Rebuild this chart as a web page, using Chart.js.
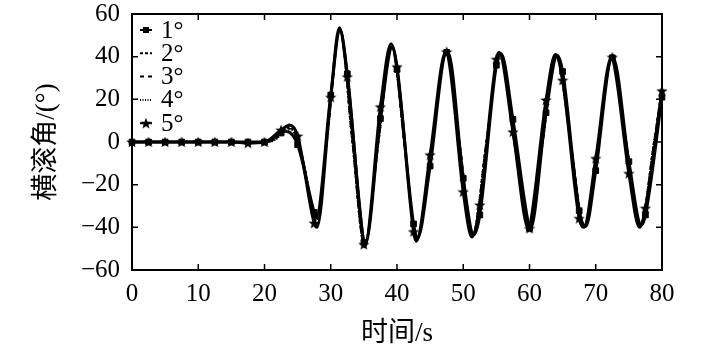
<!DOCTYPE html>
<html>
<head>
<meta charset="utf-8">
<script src="https://cdn.jsdelivr.net/npm/chart.js@4"></script>
<style>
  body { margin: 0; background: #fff; }
</style>
</head>
<body>
<canvas id="rollChart" width="709" height="350"></canvas>
<script>
// marker times (s) for the 1° (squares) and 5° (stars) curves
const markerTimes = [0, 2.5, 5, 7.5, 10, 12.5, 15, 17.5, 20, 22.5, 25, 27.5, 30, 32.5, 35, 37.5, 40, 42.5, 45, 47.5, 50, 52.5, 55, 57.5, 60, 62.5, 65, 67.5, 70, 72.5, 75, 77.5, 80];
const squareValues = [0, 0, 0, 0, 0, 0, 0, 0, 0, 4.2, -1.3, -33, 22, 32, -47, 11, 34, -38.4, -11.3, 42, -17, -34.2, 36, 10.6, -40.5, 13.7, 33, -32.2, -13.4, 39.5, -9.2, -34.2, 21];
const starValues = [0, 0, 0, 0, 0, 0, 0, -0.5, 0, 5.6, 2.8, -38, 21, 30.6, -48, 16.5, 35.3, -42, -6, 42.3, -23.3, -29.5, 38.8, 4.8, -40.5, 19.7, 29, -35.8, -7.7, 39.7, -14.7, -31, 24];

// peaks and troughs of the 1° and 5° curves
const peakTimes1 = [23.2, 27.8, 31.4, 35.2, 39.3, 43.1, 47.7, 51.6, 55.7, 60.1, 64.2, 68.5, 72.6, 76.9];
const peakValues1 = [5, -35.5, 52.5, -48, 44.5, -45, 42, -43.5, 41.5, -41, 40.5, -39.5, 39.5, -39];
const peakTimes5 = [23.8, 27.9, 31.3, 35.1, 39.1, 42.9, 47.4, 51.3, 55.4, 59.9, 63.9, 68.2, 72.4, 76.6];
const peakValues5 = [8, -40, 53.5, -49, 46, -46.5, 42.5, -44.5, 42, -41, 41, -40, 40, -40];

// 2°, 3°, 4° curves (no markers)
const keyTimes = [0, 20, 21.5, 23.5, 25, 26, 27.9, 29.5, 31.4, 33.2, 35.1, 37.2, 39.2, 41.1, 43.0, 45.3, 47.5, 49.5, 51.4, 53.5, 55.5, 57.7, 60.0, 62.0, 64.0, 66.2, 68.3, 70.4, 72.5, 74.6, 76.7, 78.8, 80];
const line2 = [0, 0, 1.2, 7, 1.5, -11, -38.5, 4, 53, 2, -48.5, 0, 45.5, 0, -46, 0, 42.3, -2, -44, 0, 42, 0, -41, 0, 41, 0, -40, 0, 40, 0, -39.5, 0, 26];
const line3 = [0, 0, 1, 6.5, 1, -11.5, -37.5, 3, 53, 2, -48.5, 0, 45, 0, -45.5, 0, 42.2, -2, -44, 0, 42, 0, -41, 0, 41, 0, -40, 0, 40, 0, -39.5, 0, 25];
const line4 = [0, 0, 0.8, 5.5, 0, -12.5, -36.5, 2, 52.5, 2, -48, 0, 44.5, 0, -45.5, 0, 42, -2, -43.5, 0, 41.5, 0, -41, 0, 40.5, 0, -39.5, 0, 39.5, 0, -39, 0, 24];

const seriesLabels = ['1°', '2°', '3°', '4°', '5°'];
const xTicks = [0, 10, 20, 30, 40, 50, 60, 70, 80];
const yTicks = [-60, -40, -20, 0, 20, 40, 60];

const serif = "'Liberation Serif', 'DejaVu Serif', serif";
const titleFont = "'Liberation Serif', 'Noto Sans CJK SC', serif";

function toPoints(times, values) {
    return times.map((t, i) => ({ x: t, y: values[i] }));
}

function merge(ta, va, tb, vb) {
    return toPoints(ta, va).concat(toPoints(tb, vb)).sort((a, b) => a.x - b.x);
}

function makeStar(size) {
    const c = document.createElement('canvas');
    c.width = size;
    c.height = size;
    const g = c.getContext('2d');
    const r = size / 2, ri = r * 0.42;
    g.beginPath();
    for (let k = 0; k < 10; k++) {
        const a = -Math.PI / 2 + k * Math.PI / 5;
        const rr = k % 2 ? ri : r;
        g.lineTo(r + rr * Math.cos(a), r + 0.5 + rr * Math.sin(a));
    }
    g.closePath();
    g.fillStyle = '#000';
    g.fill();
    return c;
}

const starImg = makeStar(12);

function lineSet(label, data, dash, width) {
    return {
        label: label,
        data: data,
        borderColor: '#000',
        borderWidth: width,
        borderDash: dash,
        pointRadius: 0,
        cubicInterpolationMode: 'monotone',
        fill: false
    };
}

const datasets = [
    lineSet('1°', merge(markerTimes, squareValues, peakTimes1, peakValues1), [], 3),
    lineSet('2°', toPoints(keyTimes, line2), [3, 2], 2),
    lineSet('3°', toPoints(keyTimes, line3), [4, 4], 2),
    lineSet('4°', toPoints(keyTimes, line4), [1, 1.5], 2),
    lineSet('5°', merge(markerTimes, starValues, peakTimes5, peakValues5), [], 3),
    {
        label: '1° marks',
        data: toPoints(markerTimes, squareValues),
        showLine: false,
        pointStyle: 'rect',
        pointRadius: 4,
        pointBackgroundColor: '#000',
        pointBorderColor: '#000',
        pointBorderWidth: 1,
        clip: false
    },
    {
        label: '5° marks',
        data: toPoints(markerTimes, starValues),
        showLine: false,
        pointStyle: starImg,
        pointRadius: 6,
        clip: false
    }
];

// box round the plot, inward ticks, and the legend inside the plot
const framePlugin = {
    id: 'frame',
    beforeDatasetsDraw(chart) {
        const { ctx, chartArea: a, scales } = chart;
        ctx.save();
        ctx.strokeStyle = '#000';
        ctx.lineWidth = 1.5;
        ctx.beginPath();
        xTicks.forEach(v => {
            const px = scales.x.getPixelForValue(v);
            ctx.moveTo(px, a.bottom); ctx.lineTo(px, a.bottom - 6);
            ctx.moveTo(px, a.top); ctx.lineTo(px, a.top + 6);
        });
        yTicks.forEach(v => {
            const py = scales.y.getPixelForValue(v);
            ctx.moveTo(a.left, py); ctx.lineTo(a.left + 6, py);
            ctx.moveTo(a.right, py); ctx.lineTo(a.right - 6, py);
        });
        ctx.stroke();
        ctx.lineWidth = 2;
        ctx.strokeRect(a.left, a.top, a.right - a.left, a.bottom - a.top);
        ctx.restore();
    },
    afterDraw(chart) {
        const ctx = chart.ctx;
        const dashes = [[], [3, 2], [4, 4], [1, 1.5], []];
        ctx.save();
        ctx.font = '25px ' + serif;
        ctx.textBaseline = 'middle';
        ctx.fillStyle = '#000';
        seriesLabels.forEach((lab, i) => {
            const y = 30 + i * 23.3;
            ctx.strokeStyle = '#000';
            ctx.lineWidth = 2;
            ctx.setLineDash(dashes[i]);
            ctx.beginPath();
            ctx.moveTo(140, y);
            ctx.lineTo(152, y);
            ctx.stroke();
            ctx.setLineDash([]);
            if (i === 0) {
                ctx.fillRect(143, y - 3, 6, 6);
            }
            if (i === 4) {
                ctx.drawImage(starImg, 146 - 6, y - 6);
            }
            ctx.fillText(lab, 161, y + 1);
        });
        ctx.restore();
    }
};

function drawChart() {
    new Chart(document.getElementById('rollChart'), {
        type: 'line',
        data: { datasets: datasets },
        options: {
            responsive: false,
            animation: false,
            devicePixelRatio: 1,
            layout: { padding: { top: 0, right: 47, left: 0, bottom: 0 } },
            plugins: {
                legend: { display: false },
                tooltip: { enabled: false }
            },
            scales: {
                x: {
                    type: 'linear',
                    min: 0,
                    max: 80,
                    afterFit: s => { s.height = 80; },
                    afterBuildTicks: s => { s.ticks = xTicks.map(v => ({ value: v })); },
                    grid: { display: false, drawTicks: false },
                    border: { display: false },
                    ticks: {
                        color: '#000',
                        padding: 9,
                        maxRotation: 0,
                        font: { family: serif, size: 25 }
                    },
                    title: {
                        display: true,
                        text: '时间/s',
                        color: '#000',
                        padding: { top: 0, bottom: 0 },
                        font: { family: titleFont, size: 27 }
                    }
                },
                y: {
                    min: -60,
                    max: 60,
                    afterFit: s => { s.width = 132; s.paddingTop = 14; s.paddingBottom = 0; },
                    afterBuildTicks: s => { s.ticks = yTicks.map(v => ({ value: v })); },
                    grid: { display: false, drawTicks: false },
                    border: { display: false },
                    ticks: {
                        color: '#000',
                        padding: 12,
                        font: { family: serif, size: 25 },
                        callback: v => v < 0 ? '\u2212' + Math.abs(v) : String(v)
                    },
                    title: {
                        display: true,
                        text: '横滚角/(°)',
                        color: '#000',
                        padding: { top: 31, bottom: 0 },
                        font: { family: titleFont, size: 27 }
                    }
                }
            }
        },
        plugins: [framePlugin]
    });
}

Promise.all([
    document.fonts.load("25px 'Liberation Serif'"),
    document.fonts.load("27px 'Noto Sans CJK SC'", '时间')
]).then(drawChart, drawChart);
</script>
</body>
</html>
